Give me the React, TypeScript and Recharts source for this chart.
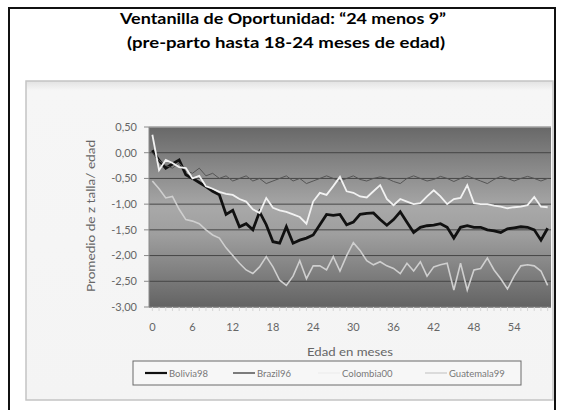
import React from 'react';
import { LineChart, Line, XAxis, YAxis, CartesianGrid, ReferenceLine } from 'recharts';

const months = [
  0, 1, 2, 3, 4, 5, 6, 7, 8, 9, 10, 11, 12, 13, 14, 15, 16, 17, 18, 19,
  20, 21, 22, 23, 24, 25, 26, 27, 28, 29, 30, 31, 32, 33, 34, 35, 36, 37, 38, 39,
  40, 41, 42, 43, 44, 45, 46, 47, 48, 49, 50, 51, 52, 53, 54, 55, 56, 57, 58, 59,
];

const bolivia98 = [
  0.05, -0.15, -0.3, -0.22, -0.14, -0.43, -0.5, -0.58, -0.66, -0.75,
  -0.82, -1.2, -1.12, -1.44, -1.38, -1.5, -1.15, -1.4, -1.73, -1.76,
  -1.44, -1.76, -1.7, -1.66, -1.6, -1.4, -1.2, -1.22, -1.2, -1.4,
  -1.35, -1.2, -1.18, -1.17, -1.3, -1.41, -1.3, -1.15, -1.35, -1.55,
  -1.45, -1.42, -1.41, -1.38, -1.45, -1.66, -1.45, -1.42, -1.45, -1.45,
  -1.5, -1.52, -1.55, -1.48, -1.46, -1.44, -1.45, -1.5, -1.7, -1.47,
];

const brazil96 = [
  0.0, -0.15, -0.25, -0.3, -0.2, -0.35, -0.4, -0.3, -0.45, -0.4,
  -0.5, -0.45, -0.55, -0.5, -0.45, -0.55, -0.5, -0.6, -0.55, -0.5,
  -0.45, -0.55, -0.5, -0.6, -0.55, -0.5, -0.45, -0.5, -0.55, -0.5,
  -0.45, -0.52, -0.55, -0.5, -0.47, -0.5, -0.56, -0.6, -0.5, -0.45,
  -0.5, -0.55, -0.52, -0.46, -0.5, -0.56, -0.5, -0.45, -0.5, -0.55,
  -0.6, -0.52, -0.46, -0.5, -0.55, -0.5, -0.46, -0.5, -0.55, -0.5,
];

const colombia00 = [
  0.35, -0.34, -0.14, -0.2, -0.28, -0.3, -0.5, -0.45, -0.65, -0.7,
  -0.76, -0.8, -0.82, -0.9, -0.95, -1.1, -1.17, -0.88, -1.07, -1.12,
  -1.15, -1.2, -1.25, -1.38, -0.95, -0.78, -0.82, -0.65, -0.47, -0.75,
  -0.78, -0.85, -0.87, -0.75, -0.63, -0.9, -1.02, -0.9, -0.95, -1.0,
  -0.98, -0.85, -0.73, -0.85, -1.0, -0.9, -0.88, -0.63, -0.98, -1.0,
  -1.0, -1.03, -1.05, -1.08, -1.06, -1.05, -1.02, -0.86, -1.05, -1.06,
];

const guatemala99 = [
  -0.55, -0.7, -0.88, -0.85, -1.1, -1.3, -1.33, -1.38, -1.5, -1.6,
  -1.66, -1.85, -2.0, -2.15, -2.28, -2.35, -2.22, -2.02, -2.22, -2.48,
  -2.58, -2.4, -2.1, -2.45, -2.2, -2.2, -2.28, -2.02, -2.3, -2.0,
  -1.75, -1.9, -2.1, -2.18, -2.12, -2.2, -2.25, -2.35, -2.15, -2.3,
  -2.12, -2.4, -2.22, -2.18, -2.15, -2.67, -2.15, -2.67, -2.28, -2.25,
  -2.05, -2.28, -2.45, -2.65, -2.4, -2.2, -2.18, -2.2, -2.3, -2.58,
];

const seriesNames = ['Bolivia98', 'Brazil96', 'Colombia00', 'Guatemala99'];
const seriesValues = [bolivia98, brazil96, colombia00, guatemala99];
const seriesColors = ['#111111', '#555555', '#f2f2f2', '#cfcfcf'];
const legendColors = ['#111111', '#3a3a3a', '#eeeeee', '#cccccc'];
const seriesWidths = [2.8, 1, 1.8, 1.6];

const yTicks = [0.5, 0, -0.5, -1, -1.5, -2, -2.5, -3];
const xTickLabels = [0, 6, 12, 18, 24, 30, 36, 42, 48, 54];

const titleLine1 = 'Ventanilla de Oportunidad:  \u201C24 menos 9\u201D';
const titleLine2 = '(pre-parto hasta 18-24 meses de edad)';
const yTitle = 'Promedio de z talla/ edad';
const xTitle = 'Edad en meses';

const data = months.map((m, i) => {
  const row: Record<string, number> = { mes: m };
  seriesNames.forEach((n, k) => {
    row[n] = seriesValues[k][i];
  });
  return row;
});

const fmt = (v: number) => v.toFixed(2).replace('.', ',');

const XTick = (props: any) => {
  const { x, y, payload } = props;
  const v = Number(payload.value);
  if (!xTickLabels.includes(v)) return <g />;
  return (
    <text x={x} y={y} dy="0.71em" textAnchor="middle" fill="#666666" fontSize={11} fontFamily="Lato, sans-serif">
      {v}
    </text>
  );
};

const legendX = [145, 233, 318, 425];

export default function App() {
  return (
    <div style={{ position: 'absolute', left: 0, top: 0, width: 564, height: 410, background: '#ffffff', overflow: 'hidden' }}>
      <svg width={564} height={410} style={{ position: 'absolute', left: 0, top: 0 }}>
        <defs>
          <linearGradient id="boxShade" x1="0" y1="0" x2="0" y2="1">
            <stop offset="0" stopColor="#e2e2e2" />
            <stop offset="0.03" stopColor="#f6f6f6" />
            <stop offset="1" stopColor="#f4f4f4" />
          </linearGradient>
        </defs>
        <rect x={9} y={8} width={546} height={420} fill="#ffffff" stroke="#111111" strokeWidth={2} />
        <rect x={26} y={81} width={527} height={319} fill="url(#boxShade)" stroke="#c4c4c4" strokeWidth={1.5} />
        <text x={283} y={24} textAnchor="middle" fontFamily="Lato, sans-serif" fontWeight={700} fontSize={15}
          textLength={326} lengthAdjust="spacingAndGlyphs" fill="#000">{titleLine1}</text>
        <text x={286} y={48} textAnchor="middle" fontFamily="Lato, sans-serif" fontWeight={700} fontSize={15}
          textLength={318} lengthAdjust="spacingAndGlyphs" fill="#000">{titleLine2}</text>
        <text x={95} y={216} transform="rotate(-90 95 216)" textAnchor="middle" fontFamily="Lato, sans-serif" fontSize={11.5}
          textLength={152} lengthAdjust="spacingAndGlyphs" fill="#666666">{yTitle}</text>
        <text x={350} y={356} textAnchor="middle" fontFamily="Lato, sans-serif" fontSize={12}
          textLength={86} lengthAdjust="spacingAndGlyphs" fill="#666666">{xTitle}</text>
        <rect x={133} y={361} width={388} height={24} fill="#f7f7f7" stroke="#6a6a6a" strokeWidth={1} />
        {seriesNames.map((n, k) => (
          <g key={n}>
            <line x1={legendX[k]} x2={legendX[k] + 22} y1={373} y2={373} stroke={legendColors[k]} strokeWidth={k === 0 ? 2.2 : 1.3} />
            <text x={legendX[k] + 24} y={376.5} fontFamily="Lato, sans-serif" fontSize={9.5} fill="#777777">{n}</text>
          </g>
        ))}
      </svg>
      <div style={{ position: 'absolute', left: 0, top: 0 }}>
        <LineChart width={564} height={410} data={data} margin={{ top: 127, right: 13, left: 0, bottom: 0 }}>
          <defs>
            <linearGradient id="plotBg" x1="0" y1="0" x2="0" y2="1">
              <stop offset="0" stopColor="#686868" />
              <stop offset="0.45" stopColor="#a8a8a8" />
              <stop offset="0.6" stopColor="#9e9e9e" />
              <stop offset="1" stopColor="#636363" />
            </linearGradient>
          </defs>
          <CartesianGrid vertical={false} stroke="#464646" fill="url(#plotBg)" fillOpacity={1} />
          <XAxis
            dataKey="mes"
            type="category"
            scale="band"
            interval={0}
            height={103}
            tick={<XTick />}
            tickSize={4}
            tickMargin={12}
            tickLine={{ stroke: '#d6d6d6' }}
            axisLine={{ stroke: '#8a8a8a' }}
          />
          <YAxis
            type="number"
            domain={[-3, 0.5]}
            ticks={yTicks}
            width={149}
            tickSize={5}
            tickMargin={7}
            tickFormatter={fmt}
            tick={{ fill: '#666666', fontSize: 11, fontFamily: 'Lato, sans-serif' }}
            tickLine={{ stroke: '#8a8a8a' }}
            axisLine={{ stroke: '#8a8a8a' }}
            interval={0}
          />
          <ReferenceLine y={0.5} stroke="#cfcfcf" />
          {seriesNames.map((n, k) => (
            <Line
              key={n}
              dataKey={n}
              type="linear"
              stroke={seriesColors[k]}
              strokeWidth={seriesWidths[k]}
              dot={false}
              activeDot={false}
              isAnimationActive={false}
            />
          ))}
        </LineChart>
      </div>
    </div>
  );
}
